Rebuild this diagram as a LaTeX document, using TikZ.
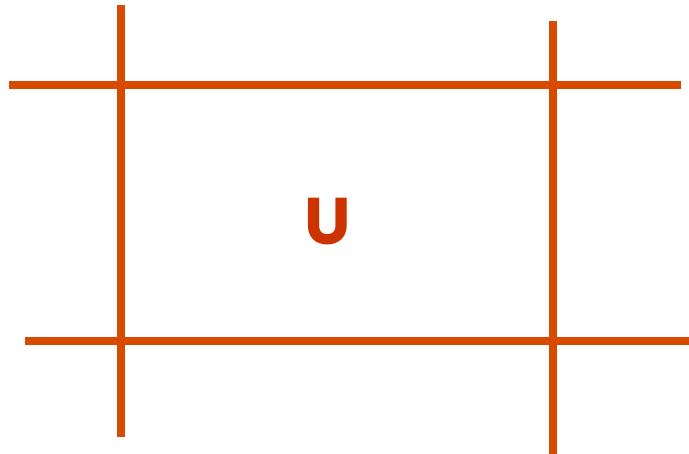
\documentclass[tikz,border=0pt]{standalone}
\usepackage{fontspec}
\newfontfamily\ufont{Poppins}
\definecolor{linecol}{RGB}{216,74,0}
\definecolor{ucol}{RGB}{204,51,0}
\begin{document}
\begin{tikzpicture}[x=1pt,y=-1pt,
  gridline/.style={draw=linecol,line width=8pt},
  ulabel/.style={text=ucol,font=\ufont\bfseries\fontsize{66}{66}\selectfont,inner sep=0pt}]
\useasboundingbox (0,0) rectangle (689,454);
\coordinate (t1) at (9,85);
\coordinate (t2) at (681,85);
\coordinate (b1) at (25,341);
\coordinate (b2) at (689,341);
\coordinate (l1) at (121,5);
\coordinate (l2) at (121,437);
\coordinate (r1) at (553,21);
\coordinate (r2) at (553,454);
\draw[gridline] (t1) -- (t2);
\draw[gridline] (b1) -- (b2);
\draw[gridline] (l1) -- (l2);
\draw[gridline] (r1) -- (r2);
\node[ulabel,anchor=base] (u) at (328,245) {U};
\end{tikzpicture}
\end{document}
